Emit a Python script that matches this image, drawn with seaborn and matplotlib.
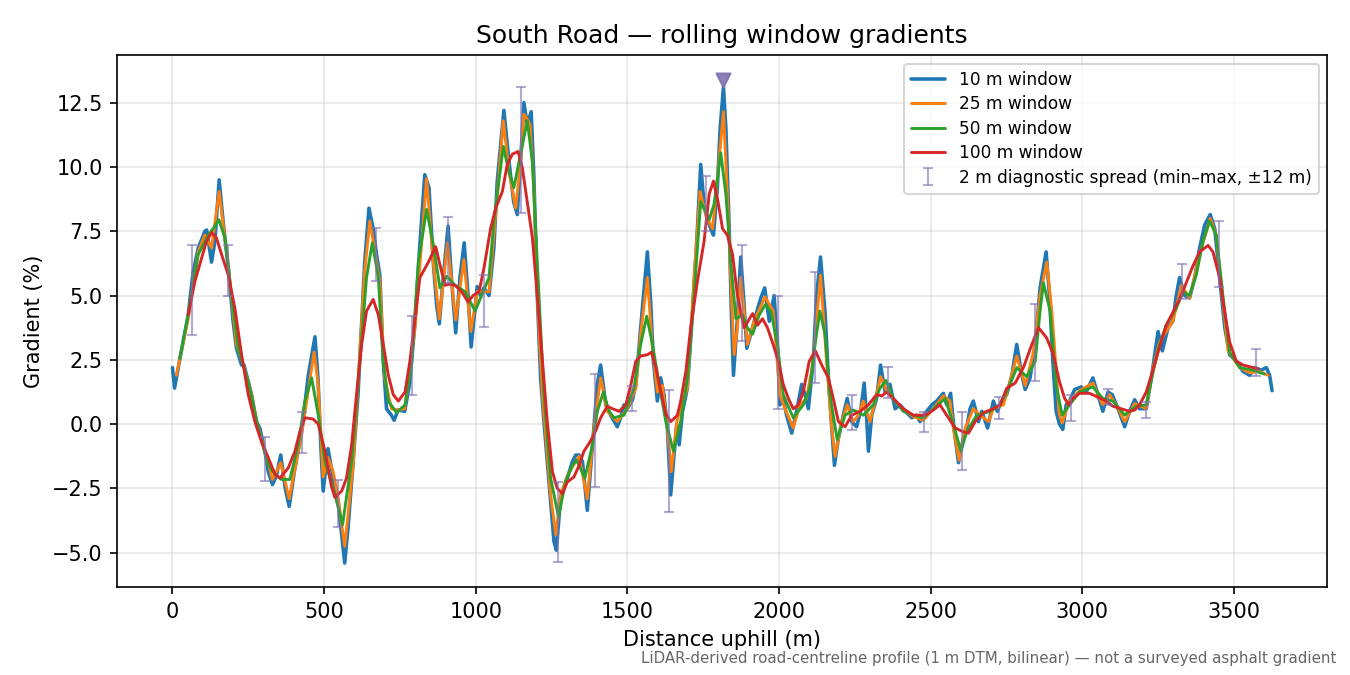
import numpy as np
import pandas as pd
import matplotlib
matplotlib.use("Agg")
import matplotlib.pyplot as plt
import seaborn as sns

# (distance along road in m, gradient in %)
win_10m = [
    (0, 2.2), (7, 1.4), (24, 2.5), (52, 4.25), (68, 5.9), (85, 6.85), (107, 7.5), (113, 7.55),
    (129, 6.3), (140, 7.1), (154, 9.5), (167, 7.9), (184, 6.1), (200, 4.0), (211, 2.95),
    (228, 2.3), (236, 2.3), (261, 1.15), (277, 0.1), (288, -0.15), (305, -1.05), (316, -1.85),
    (330, -2.35), (343, -2.0), (357, -1.2), (372, -2.5), (385, -3.2), (404, -1.7), (426, -0.3),
    (448, 1.9), (470, 3.4), (480, 1.8), (489, -0.8), (497, -2.6), (508, -1.45), (513, -0.95),
    (530, -2.1), (547, -3.1), (568, -5.4), (579, -4.05), (596, -1.45), (612, 1.15), (623, 3.75),
    (634, 6.3), (648, 8.4), (662, 7.6), (673, 6.6), (684, 5.8), (695, 2.45), (706, 0.6),
    (722, 0.35), (731, 0.15), (744, 0.55), (766, 0.5), (783, 1.65), (800, 4.0), (816, 7.0),
    (832, 9.7), (846, 9.2), (860, 6.3), (871, 4.65), (880, 3.9), (893, 5.7), (909, 7.7),
    (920, 5.7), (934, 3.55), (948, 5.7), (962, 7.05), (975, 5.0), (985, 3.0), (1005, 5.35),
    (1016, 5.0), (1027, 5.3), (1044, 5.0), (1060, 6.85), (1071, 9.45), (1093, 12.2),
    (1110, 10.2), (1125, 8.65), (1137, 8.15), (1148, 10.2), (1159, 12.5), (1170, 11.65),
    (1183, 12.15), (1192, 9.6), (1203, 5.0), (1214, 1.8), (1225, 0.1), (1236, -1.45),
    (1247, -3.0), (1258, -4.55), (1266, -4.9), (1280, -2.85), (1291, -2.5), (1302, -2.1),
    (1319, -1.45), (1330, -1.2), (1341, -1.2), (1352, -1.45), (1368, -3.35), (1385, -0.8),
    (1401, 1.55), (1412, 2.3), (1429, 0.75), (1445, 0.35), (1467, -0.1), (1478, 0.25),
    (1489, 0.75), (1500, 0.6), (1517, 0.95), (1528, 1.55), (1544, 3.75), (1566, 6.7),
    (1577, 4.75), (1586, 2.45), (1599, 0.9), (1610, 1.8), (1621, 1.15), (1632, -0.15),
    (1643, -2.75), (1654, -1.2), (1663, 0.0), (1671, -0.8), (1682, 0.5), (1698, 1.4),
    (1715, 4.35), (1731, 7.6), (1742, 10.1), (1753, 8.55), (1764, 8.0), (1775, 7.6),
    (1784, 7.35), (1797, 9.2), (1806, 11.5), (1817, 13.1), (1825, 11.5), (1836, 7.6),
    (1843, 4.35), (1850, 1.9), (1861, 3.75), (1874, 6.5), (1883, 5.0), (1894, 2.95),
    (1907, 3.5), (1924, 4.25), (1940, 4.9), (1953, 5.3), (1968, 4.0), (1984, 5.0), (1995, 3.1),
    (2003, 0.75), (2014, 1.0), (2025, 0.35), (2042, -0.35), (2058, 0.5), (2075, 1.55),
    (2086, 1.15), (2097, 0.6), (2113, 2.45), (2124, 5.0), (2137, 6.5), (2152, 4.35),
    (2163, 1.8), (2174, -0.15), (2183, -1.6), (2196, -0.55), (2212, 0.35), (2225, 1.0),
    (2240, 0.1), (2256, -0.1), (2269, 0.5), (2281, 1.6), (2289, 0.25), (2295, -1.05),
    (2306, 0.35), (2322, 1.0), (2335, 2.3), (2350, 1.25), (2366, 1.55), (2383, 0.6),
    (2399, 0.75), (2421, 0.45), (2438, 0.25), (2454, 0.35), (2465, 0.1), (2487, 0.5),
    (2504, 0.75), (2520, 0.9), (2542, 1.2), (2553, 0.75), (2566, 1.2), (2577, -0.15),
    (2592, -1.5), (2608, -0.55), (2619, -0.15), (2630, 0.6), (2641, 0.9), (2658, 0.1),
    (2669, 0.5), (2688, -0.15), (2707, 0.9), (2720, 0.5), (2735, 0.9), (2751, 1.15),
    (2768, 1.9), (2784, 3.1), (2801, 1.9), (2812, 1.35), (2828, 1.8), (2845, 3.1), (2861, 5.3),
    (2881, 6.7), (2892, 5.0), (2903, 2.45), (2914, 0.5), (2925, 0.0), (2936, -0.2),
    (2947, 0.75), (2958, 0.9), (2975, 1.35), (2997, 1.45), (3013, 1.25), (3035, 1.8),
    (3052, 1.15), (3068, 0.5), (3085, 1.25), (3099, 1.15), (3118, 0.6), (3140, -0.1),
    (3156, 0.5), (3173, 0.95), (3189, 0.6), (3211, 0.6), (3228, 1.8), (3250, 3.6),
    (3264, 2.85), (3283, 3.75), (3299, 4.0), (3310, 5.0), (3321, 5.7), (3338, 5.0),
    (3354, 4.9), (3371, 5.7), (3387, 6.85), (3404, 7.75), (3422, 8.15), (3437, 7.6),
    (3453, 5.7), (3470, 3.75), (3486, 2.7), (3508, 2.45), (3530, 2.05), (3552, 1.9),
    (3569, 2.2), (3590, 2.1), (3607, 2.2), (3618, 1.9), (3626, 1.3),
]

win_25m = [
    (13, 1.9), (52, 4.1), (85, 6.7), (107, 7.35), (129, 6.85), (154, 9.05), (184, 6.2),
    (211, 3.1), (233, 2.35), (261, 1.15), (277, 0.1), (305, -1.05), (330, -2.15),
    (357, -1.5), (385, -2.9), (426, -0.4), (467, 2.8), (480, 1.6), (497, -2.05), (513, -1.3),
    (530, -1.85), (547, -2.9), (568, -4.75), (596, -1.6), (634, 5.95), (651, 7.9), (673, 6.3),
    (684, 5.55), (700, 1.8), (722, 0.6), (744, 0.55), (766, 0.6), (800, 3.75), (838, 9.55),
    (860, 6.3), (880, 4.1), (907, 7.05), (934, 4.05), (961, 6.4), (984, 3.6), (1005, 5.15),
    (1044, 5.15), (1071, 8.9), (1091, 11.8), (1110, 9.8), (1132, 8.4), (1148, 10.2),
    (1159, 12.05), (1170, 11.85), (1179, 11.65), (1192, 9.2), (1203, 5.0), (1220, 1.15),
    (1247, -2.75), (1264, -4.3), (1280, -2.75), (1302, -2.0), (1330, -1.45), (1341, -1.25),
    (1368, -2.9), (1390, -0.15), (1412, 1.8), (1434, 0.5), (1467, 0.1), (1500, 0.6),
    (1528, 1.4), (1544, 3.5), (1566, 5.7), (1582, 3.1), (1599, 1.25), (1616, 1.5),
    (1632, -0.15), (1645, -1.85), (1663, 0.1), (1676, 0.6), (1698, 1.4), (1720, 5.7),
    (1740, 9.05), (1759, 8.1), (1781, 7.6), (1797, 9.55), (1817, 12.15), (1830, 8.9),
    (1841, 5.7), (1852, 2.7), (1863, 3.75), (1874, 5.7), (1896, 3.1), (1918, 4.0),
    (1954, 4.95), (1981, 4.4), (2003, 1.15), (2020, 0.6), (2047, -0.15), (2069, 0.75),
    (2091, 1.0), (2113, 2.45), (2137, 5.8), (2157, 2.45), (2174, -0.15), (2185, -1.25),
    (2207, 0.1), (2225, 0.75), (2245, 0.1), (2262, 0.35), (2278, 0.9), (2300, 0.1),
    (2317, 0.9), (2335, 1.85), (2355, 1.3), (2377, 1.0), (2410, 0.55), (2443, 0.3),
    (2476, 0.15), (2509, 0.6), (2542, 1.1), (2564, 0.9), (2575, -0.15), (2594, -1.4),
    (2614, -0.15), (2641, 0.6), (2663, 0.35), (2691, 0.1), (2707, 0.6), (2740, 0.75),
    (2762, 1.65), (2784, 2.65), (2812, 1.5), (2839, 2.8), (2861, 5.0), (2883, 6.3),
    (2900, 4.35), (2916, 1.8), (2924, 0.4), (2934, 0.05), (2958, 0.9), (2991, 1.3),
    (3035, 1.6), (3068, 0.75), (3090, 1.15), (3112, 0.75), (3140, 0.1), (3173, 0.8),
    (3211, 0.6), (3233, 2.15), (3255, 3.2), (3277, 3.6), (3299, 4.0), (3327, 5.4),
    (3354, 4.9), (3387, 6.6), (3422, 8.0), (3442, 7.35), (3459, 5.3), (3481, 2.85),
    (3519, 2.2), (3552, 2.0), (3585, 2.05), (3613, 1.9),
]

win_50m = [
    (24, 2.55), (52, 4.25), (85, 6.6), (118, 7.35), (134, 7.6), (153, 7.95), (173, 7.25),
    (195, 5.0), (217, 2.95), (250, 1.65), (283, -0.15), (316, -1.6), (338, -1.95),
    (360, -2.15), (387, -2.15), (415, -0.8), (437, 0.9), (459, 1.8), (481, 0.35),
    (503, -1.45), (536, -2.75), (561, -3.9), (591, -1.45), (618, 2.45), (640, 5.7),
    (659, 7.05), (679, 5.7), (695, 2.45), (712, 0.9), (739, 0.45), (767, 0.75), (789, 2.45),
    (811, 6.3), (838, 8.35), (860, 7.0), (882, 5.3), (904, 5.75), (932, 5.4), (965, 5.15),
    (998, 4.4), (1016, 4.9), (1044, 5.7), (1060, 7.9), (1091, 10.8), (1110, 9.8),
    (1126, 9.2), (1148, 10.5), (1170, 11.8), (1187, 10.2), (1203, 6.3), (1225, 1.15),
    (1247, -2.1), (1273, -3.6), (1297, -2.2), (1319, -1.6), (1333, -1.4), (1360, -2.1),
    (1385, -0.8), (1401, 0.5), (1421, 1.25), (1440, 0.5), (1456, 0.25), (1489, 0.35),
    (1522, 1.4), (1544, 3.1), (1564, 4.2), (1583, 3.1), (1605, 1.55), (1627, 0.1),
    (1652, -1.05), (1676, 0.1), (1698, 1.8), (1720, 5.0), (1742, 8.65), (1770, 7.95),
    (1786, 8.55), (1808, 10.55), (1825, 8.95), (1841, 6.3), (1858, 4.1), (1880, 4.25),
    (1896, 3.75), (1913, 3.5), (1935, 4.25), (1955, 4.65), (1973, 4.4), (1995, 3.1),
    (2014, 1.15), (2047, 0.25), (2080, 0.75), (2102, 1.4), (2119, 3.1), (2135, 4.4),
    (2152, 3.5), (2168, 1.15), (2192, -0.6), (2218, 0.35), (2245, 0.55), (2278, 0.35),
    (2311, 0.75), (2333, 1.4), (2353, 1.7), (2377, 1.0), (2410, 0.5), (2443, 0.35),
    (2476, 0.25), (2509, 0.6), (2548, 1.0), (2575, 0.0), (2600, -1.05), (2619, -0.3),
    (2652, 0.35), (2696, 0.5), (2729, 0.75), (2757, 1.4), (2784, 2.2), (2817, 1.85),
    (2845, 2.45), (2861, 4.4), (2872, 5.5), (2894, 4.4), (2914, 1.5), (2934, 0.35),
    (2958, 0.75), (2991, 1.25), (3035, 1.45), (3068, 1.0), (3101, 0.9), (3140, 0.35),
    (3178, 0.7), (3211, 0.75), (3233, 2.0), (3255, 3.1), (3277, 3.85), (3310, 4.5),
    (3332, 5.15), (3354, 5.0), (3376, 5.8), (3398, 7.1), (3420, 7.9), (3442, 7.35),
    (3464, 5.0), (3486, 2.8), (3519, 2.2), (3563, 2.1), (3600, 1.95),
]

win_100m = [
    (52, 4.25), (74, 5.55), (90, 6.2), (112, 7.1), (129, 7.45), (145, 7.25), (162, 6.6),
    (184, 5.8), (206, 4.5), (228, 2.7), (250, 1.15), (272, 0.1), (294, -0.7), (316, -1.3),
    (338, -1.95), (354, -2.1), (382, -1.7), (404, -1.05), (420, -0.3), (437, 0.25),
    (464, 0.2), (481, 0.0), (503, -1.05), (525, -2.45), (536, -2.85), (558, -2.6),
    (574, -2.1), (591, -0.8), (607, 1.15), (624, 3.1), (640, 4.4), (662, 4.85), (679, 4.25),
    (695, 3.1), (712, 1.9), (728, 1.15), (745, 0.9), (767, 1.25), (783, 2.45), (800, 4.1),
    (816, 5.7), (844, 6.3), (868, 6.9), (882, 6.2), (899, 5.4), (915, 5.45), (932, 5.4),
    (954, 5.15), (975, 4.75), (991, 5.0), (1011, 5.15), (1027, 6.05), (1049, 7.6),
    (1066, 8.4), (1088, 9.05), (1104, 10.1), (1121, 10.5), (1140, 10.6), (1154, 9.95),
    (1170, 8.65), (1187, 7.25), (1203, 5.0), (1220, 2.45), (1236, 0.1), (1253, -1.85),
    (1269, -2.5), (1286, -2.7), (1302, -2.25), (1324, -2.05), (1341, -1.6), (1357, -1.05),
    (1379, -0.65), (1396, -0.25), (1412, 0.25), (1434, 0.7), (1451, 0.6), (1473, 0.5),
    (1495, 0.75), (1511, 1.5), (1528, 2.45), (1544, 2.65), (1566, 2.7), (1580, 2.8),
    (1594, 2.2), (1610, 1.3), (1627, 0.4), (1643, 0.1), (1665, 0.35), (1676, 0.9),
    (1693, 2.05), (1709, 3.75), (1731, 5.55), (1753, 7.1), (1770, 8.95), (1784, 9.45),
    (1799, 8.65), (1814, 7.6), (1830, 7.35), (1847, 6.6), (1863, 5.0), (1885, 3.75),
    (1913, 4.3), (1929, 3.85), (1946, 4.1), (1962, 3.75), (1981, 3.1), (1998, 2.45),
    (2014, 1.55), (2031, 1.0), (2047, 0.6), (2064, 0.75), (2080, 1.25), (2100, 2.45),
    (2120, 2.85), (2141, 2.3), (2163, 1.8), (2179, 1.0), (2196, 0.1), (2218, -0.1),
    (2240, 0.35), (2267, 0.5), (2295, 0.75), (2322, 1.15), (2339, 1.1), (2355, 1.25),
    (2377, 1.0), (2410, 0.6), (2443, 0.35), (2482, 0.35), (2509, 0.55), (2531, 0.75),
    (2553, 0.35), (2581, -0.15), (2608, -0.3), (2625, -0.35), (2647, 0.1), (2674, 0.45),
    (2707, 0.6), (2729, 0.75), (2751, 1.4), (2779, 1.6), (2806, 2.2), (2834, 3.1),
    (2856, 3.75), (2883, 3.35), (2905, 2.7), (2925, 1.65), (2942, 1.0), (2956, 0.75),
    (2969, 1.0), (2991, 1.2), (3024, 1.2), (3052, 1.05), (3079, 0.9), (3101, 0.7),
    (3129, 0.6), (3156, 0.5), (3173, 0.55), (3189, 0.75), (3211, 1.25), (3233, 2.1),
    (3255, 3.0), (3277, 3.85), (3299, 4.35), (3321, 4.85), (3343, 5.5), (3365, 6.15),
    (3387, 6.7), (3415, 6.95), (3431, 6.7), (3453, 5.7), (3470, 4.35), (3486, 3.2),
    (3508, 2.45), (3530, 2.3), (3563, 2.2), (3580, 2.15),
]

# 2 m diagnostic spread: position, min, max
spread_x = [63, 184, 305, 426, 547, 670, 791, 909, 1027, 1151, 1273, 1393, 1514, 1636, 1759,
            1877, 1997, 2119, 2240, 2358, 2479, 2603, 2724, 2845, 2964, 3085, 3209, 3329,
            3451, 3572]
spread_lo = [3.48, 4.97, -2.2, -1.13, -4.0, 5.55, 1.14, 5.49, 3.77, 8.2, -5.34, -2.46, 0.52,
             -3.4, 7.5, 3.22, 0.58, 1.6, -0.22, 1.0, -0.31, -1.78, 0.21, 1.69, 0.13, 0.75,
             0.23, 4.88, 5.32, 1.88]
spread_hi = [6.98, 6.98, -0.48, 0.49, -2.17, 7.63, 4.19, 8.05, 5.81, 13.1, -2.23, 1.95, 1.47,
             1.34, 9.64, 6.98, 4.97, 5.9, 1.14, 2.24, 0.49, 0.47, 1.04, 4.67, 1.14, 1.36,
             0.88, 6.23, 7.89, 2.92]

# steepest point marker
peak_x = [1817]
peak_y = [13.4]

series = [
    ("10 m window", win_10m, "#1f77b4", 1.7),
    ("25 m window", win_25m, "#ff7f0e", 1.4),
    ("50 m window", win_50m, "#2ca02c", 1.4),
    ("100 m window", win_100m, "#d62728", 1.4),
]

sns.set_theme(style="ticks")
plt.rcParams["font.family"] = ["DejaVu Sans"]
plt.rcParams["axes.edgecolor"] = "black"
plt.rcParams["xtick.color"] = "black"
plt.rcParams["ytick.color"] = "black"
plt.rcParams["text.color"] = "black"
plt.rcParams["axes.labelcolor"] = "black"

fig, ax = plt.subplots(figsize=(9, 4.5), dpi=150)

for label, pts, color, lw in series:
    df = pd.DataFrame(pts, columns=["dist", "grad"])
    sns.lineplot(data=df, x="dist", y="grad", ax=ax, color=color, lw=lw,
                 label=label, sort=False, estimator=None)

lo = np.array(spread_lo)
hi = np.array(spread_hi)
mid = (lo + hi) / 2
ax.errorbar(spread_x, mid, yerr=[mid - lo, hi - mid], fmt="none", ecolor="#8172B3",
            alpha=0.6, elinewidth=1.0, capsize=2.5, capthick=1.0,
            label="2 m diagnostic spread (min\u2013max, \u00b112 m)")

ax.scatter(peak_x, peak_y, marker="v", s=45, color="#8172B3", alpha=0.9,
           zorder=5, label="_nolegend_")

ax.set_title("South Road \u2014 rolling window gradients", fontsize=12)
ax.set_xlabel("Distance uphill (m)", fontsize=10)
ax.set_ylabel("Gradient (%)", fontsize=10)
ax.tick_params(labelsize=10, length=3.5, width=0.8)
ax.grid(True, color="#b0b0b0", alpha=0.3, lw=0.8)
for s in ax.spines.values():
    s.set_linewidth(0.8)

ax.legend(loc="upper right", fontsize=8.2, frameon=True, framealpha=0.8,
          edgecolor="#cccccc", fancybox=True, labelspacing=0.38)

fig.text(0.99, 0.014, "LiDAR-derived road-centreline profile (1 m DTM, bilinear) \u2014 not a surveyed asphalt gradient",
         ha="right", va="bottom", fontsize=7.2, color="#666666")

fig.subplots_adjust(left=0.087, right=0.983, top=0.918, bottom=0.130)
fig.savefig("out.png", dpi=150)
